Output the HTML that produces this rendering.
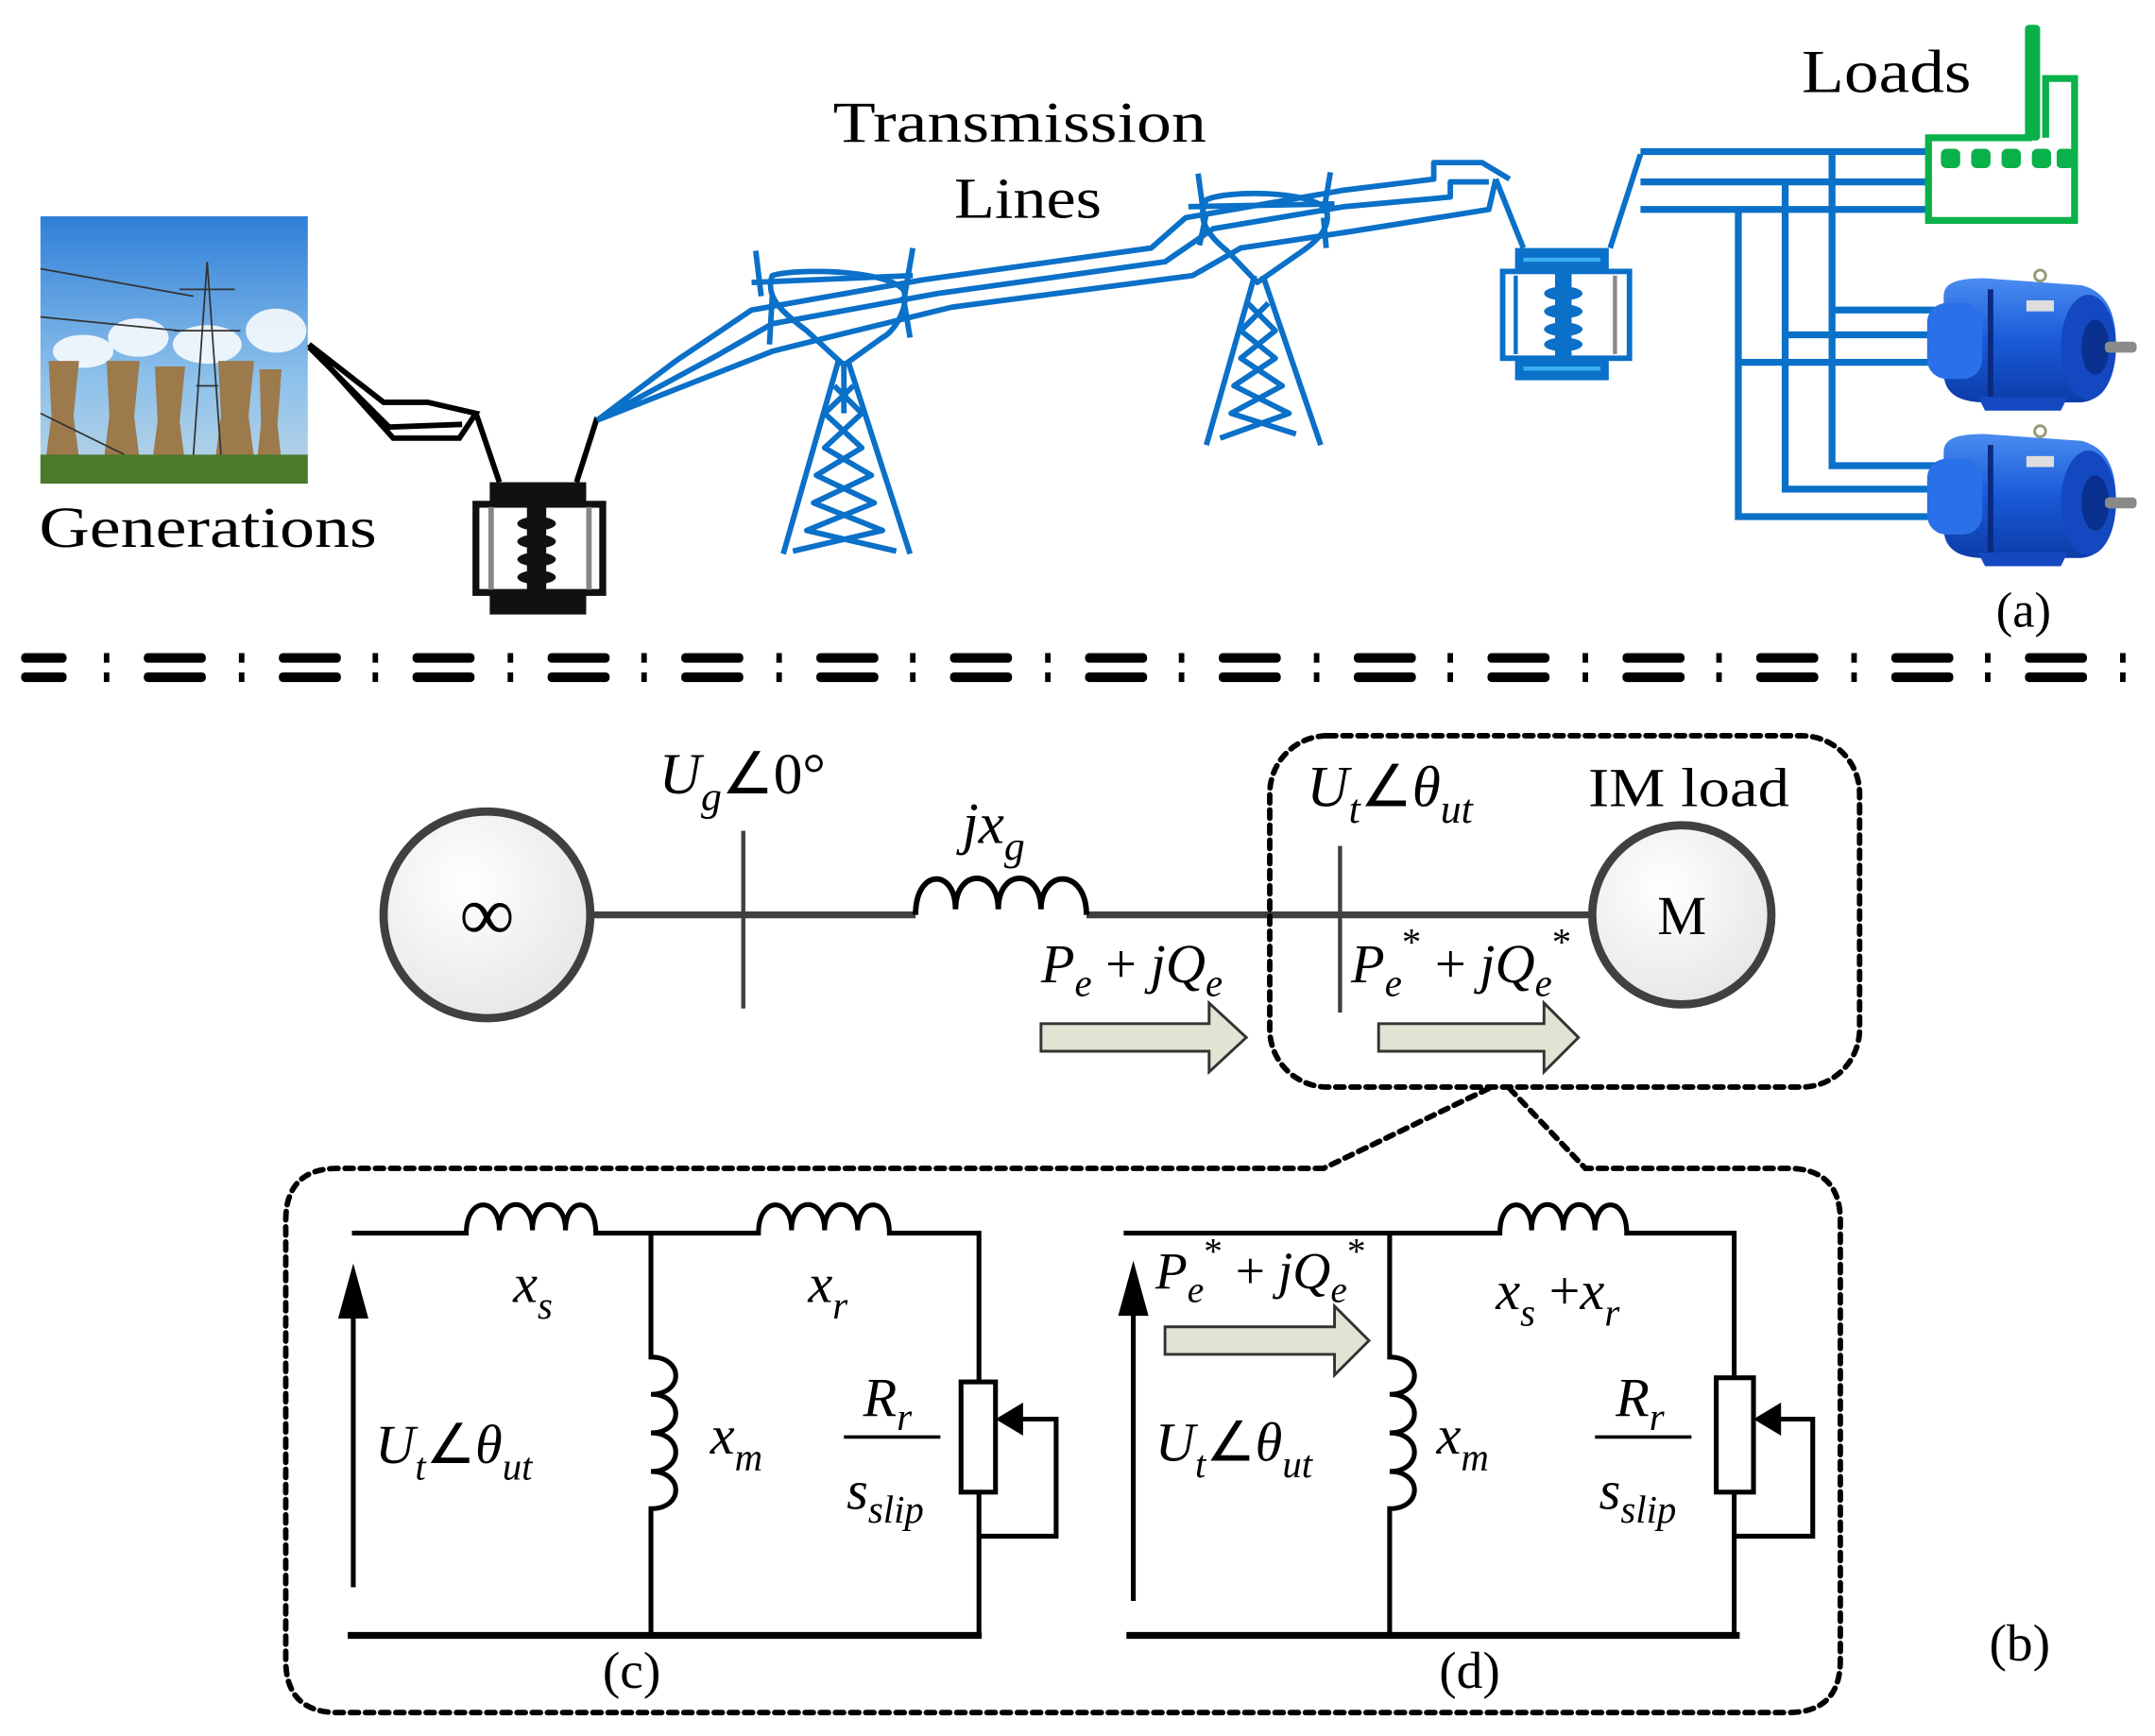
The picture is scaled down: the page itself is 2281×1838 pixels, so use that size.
<!DOCTYPE html>
<html><head><meta charset="utf-8"><style>
html,body{margin:0;padding:0;background:#fff}
svg{display:block}
.t{font-family:"Liberation Serif",serif}
.i{font-family:"Liberation Serif",serif;font-style:italic}
</style></head><body>
<svg width="2281" height="1838" viewBox="0 0 1563 1260" xmlns="http://www.w3.org/2000/svg">
<defs>
<linearGradient id="sky" x1="0" y1="0" x2="0" y2="1"><stop offset="0" stop-color="#2f7fd8"/><stop offset="0.6" stop-color="#8cc0ea"/><stop offset="1" stop-color="#bcd6e6"/></linearGradient>
<radialGradient id="cg" cx="0.4" cy="0.35" r="0.7"><stop offset="0" stop-color="#ffffff"/><stop offset="1" stop-color="#e6e6e6"/></radialGradient>
<linearGradient id="mot" x1="0" y1="0" x2="0" y2="1"><stop offset="0" stop-color="#4a8cf0"/><stop offset="0.5" stop-color="#1a5ad8"/><stop offset="1" stop-color="#0c3ca8"/></linearGradient>
</defs>

<!-- Photo -->
<rect x="29" y="157" width="194" height="194" fill="url(#sky)"/>
<g fill="#ffffff" opacity="0.85"><ellipse cx="60" cy="255" rx="22" ry="12"/><ellipse cx="100" cy="245" rx="22" ry="14"/><ellipse cx="150" cy="250" rx="25" ry="14"/><ellipse cx="200" cy="240" rx="22" ry="16"/></g>
<g fill="#9c7a4c"><path d="M35 262h22l-4 40 4 30h-24l4-30z"/><path d="M77 262h24l-4 40 4 32h-26l4-32z"/><path d="M112 266h22l-4 40 4 30h-24l4-30z"/><path d="M158 262h26l-4 40 4 30h-28l4-30z"/><path d="M188 268h16l-3 40 3 28h-18l3-28z"/></g>
<g stroke="#333" stroke-width="1.2" fill="none"><path d="M150 190 L140 330 M150 190 L160 330 M130 210h40 M126 240h48 M142 280h16"/><path d="M29 195 L140 215 M29 230 L130 240 M29 300 L90 330"/></g>
<rect x="29" y="330" width="194" height="21" fill="#4a7a2a"/>
<text class="t" x="28" y="397" font-size="42" textLength="245" lengthAdjust="spacingAndGlyphs">Generations</text>

<!-- black lines to transformer -->
<g stroke="#000" stroke-width="4" fill="none"><path d="M224 250 L278 292 L310 292 L345 300 L333 318 L285 318 Z"/><path d="M224 252 L282 310 L335 308"/><path d="M345 300 L362 350 M433 303 L418 350"/></g>
<!-- black transformer -->
<g>
<rect x="355" y="350" width="70" height="18" fill="#111"/>
<rect x="355" y="428" width="70" height="18" fill="#111"/>
<rect x="345" y="366" width="92" height="64" fill="#fff" stroke="#111" stroke-width="5"/>
<rect x="354" y="368" width="4" height="60" fill="#888"/><rect x="425" y="368" width="4" height="60" fill="#888"/>
<g fill="#111"><rect x="382" y="368" width="14" height="62"/><ellipse cx="389" cy="380" rx="14" ry="5"/><ellipse cx="389" cy="393" rx="14" ry="5"/><ellipse cx="389" cy="406" rx="14" ry="5"/><ellipse cx="389" cy="419" rx="14" ry="5"/></g>
</g>

<!-- blue transmission lines -->
<g stroke="#0a70c8" stroke-width="4" fill="none" stroke-linejoin="round">
<path d="M433 305 L490 262 L545 225 L670 203 L835 180 L860 158 L975 138 L1040 130 L1040 118 L1075 118 L1095 130"/>
<path d="M433 305 L520 258 L560 235 L680 213 L845 190 L880 166 L975 150 L1052 143 L1052 132 L1080 132"/>
<path d="M433 305 L560 255 L600 245 L690 223 L865 200 L900 180 L980 168 L1080 152 L1085 130"/>
<path d="M1085 130 L1105 180 M1168 180 L1190 112"/>
</g>
<!-- tower 1 -->
<g stroke="#0a70c8" stroke-width="4" fill="none" stroke-linejoin="round">
<path d="M548 182 L552 215 M662 180 L656 215 M545 205 L662 200"/>
<path d="M560 200 C575 195 640 195 655 210 C660 220 650 240 640 245 L612 265 L585 240 C565 225 555 215 560 200Z"/>
<path d="M560 215 L558 250 M655 215 L660 245"/>
<path d="M608 262 L568 402 M615 262 L660 402 M612 262 L612 300"/>
<path d="M605 280 L625 300 L598 325 L632 345 L590 365 L640 385 L575 400 M619 280 L598 300 L625 325 L592 345 L634 365 L585 385 L650 400"/>
</g>
<!-- tower 2 -->
<g stroke="#0a70c8" stroke-width="4" fill="none" stroke-linejoin="round">
<path d="M869 126 L873 155 M965 125 L960 155 M862 150 L968 148"/>
<path d="M875 145 C890 138 950 138 962 152 C966 165 955 175 945 182 L912 205 L890 182 C875 170 868 158 875 145Z"/>
<path d="M875 155 L870 178 M960 158 L962 180"/>
<path d="M910 200 L875 323 M916 200 L958 323"/>
<path d="M905 220 L925 240 L900 260 L930 280 L893 300 L940 315 M920 220 L900 240 L925 260 L895 280 L935 300 L885 318"/>
</g>
<!-- blue transformer -->
<g>
<rect x="1099" y="180" width="68" height="18" fill="#0a70c8"/>
<rect x="1105" y="187" width="56" height="3" fill="#3bb0f0"/>
<rect x="1099" y="258" width="68" height="18" fill="#0a70c8"/>
<rect x="1105" y="266" width="56" height="3" fill="#3bb0f0"/>
<rect x="1090" y="197" width="92" height="63" fill="#fff" stroke="#0a70c8" stroke-width="4"/>
<rect x="1098" y="200" width="3" height="57" fill="#0a70c8"/><rect x="1170" y="200" width="3" height="57" fill="#888"/>
<g fill="#0a70c8"><rect x="1128" y="198" width="12" height="62"/><ellipse cx="1134" cy="213" rx="14" ry="5"/><ellipse cx="1134" cy="226" rx="14" ry="5"/><ellipse cx="1134" cy="239" rx="14" ry="5"/><ellipse cx="1134" cy="250" rx="14" ry="5"/></g>
</g>
<text class="t" x="604" y="103" font-size="42" textLength="271" lengthAdjust="spacingAndGlyphs">Transmission</text>
<text class="t" x="692" y="158" font-size="42" textLength="107" lengthAdjust="spacingAndGlyphs">Lines</text>

<!-- bus lines -->
<g stroke="#0a70c8" stroke-width="5" fill="none">
<path d="M1190 110 H1400 M1190 132 H1400 M1190 152 H1400"/>
<path d="M1329 110 V338 H1410 M1295 132 V355 H1410 M1261 152 V375 H1410"/>
<path d="M1329 225 H1410 M1295 243 H1410 M1261 263 H1410"/>
</g>
<!-- factory -->
<g fill="none" stroke="#0ab04a" stroke-width="5">
<path d="M1474 100 H1399 V160 H1505 V57 H1484 V100"/>
</g>
<rect x="1469" y="18" width="11" height="84" rx="3" fill="#0ab04a"/>
<g fill="#0ab04a"><rect x="1408" y="108" width="14" height="14" rx="4"/><rect x="1430" y="108" width="14" height="14" rx="4"/><rect x="1452" y="108" width="14" height="14" rx="4"/><rect x="1474" y="108" width="14" height="14" rx="4"/><rect x="1492" y="108" width="12" height="14" rx="3"/></g>
<text class="t" x="1307" y="67" font-size="44" textLength="123" lengthAdjust="spacingAndGlyphs">Loads</text>
<!-- motors -->
<g id="m1">
<path d="M1410 215 C1410 205 1420 202 1440 202 L1510 207 C1530 212 1535 230 1535 250 C1535 272 1528 290 1510 292 L1440 292 C1420 292 1410 285 1410 270 Z" fill="url(#mot)"/>
<rect x="1398" y="220" width="40" height="55" rx="14" fill="#2a70e8"/>
<rect x="1442" y="210" width="4" height="78" fill="#0a2a80"/>
<ellipse cx="1515" cy="252" rx="20" ry="38" fill="#1448c0"/>
<ellipse cx="1520" cy="252" rx="10" ry="20" fill="#0a3090"/>
<rect x="1527" y="248" width="23" height="8" rx="3" fill="#8a8a8a"/>
<rect x="1470" y="218" width="20" height="8" fill="#ddd"/>
<path d="M1435 288 H1500 L1495 298 H1440 Z" fill="#1448c0"/>
<circle cx="1480" cy="200" r="4" fill="none" stroke="#997" stroke-width="2"/>
</g>
<use href="#m1" transform="translate(0,113)"/>
<text class="t" x="1448" y="455" font-size="36">(a)</text>

<!-- separator -->
<g fill="#000">
<rect x="15" y="474" width="33" height="7" rx="3"/><rect x="15" y="488" width="33" height="7" rx="3"/>
<rect x="104" y="474" width="45" height="7" rx="3"/><rect x="104" y="488" width="45" height="7" rx="3"/>
<rect x="202" y="474" width="45" height="7" rx="3"/><rect x="202" y="488" width="45" height="7" rx="3"/>
<rect x="299" y="474" width="45" height="7" rx="3"/><rect x="299" y="488" width="45" height="7" rx="3"/>
<rect x="397" y="474" width="45" height="7" rx="3"/><rect x="397" y="488" width="45" height="7" rx="3"/>
<rect x="494" y="474" width="45" height="7" rx="3"/><rect x="494" y="488" width="45" height="7" rx="3"/>
<rect x="592" y="474" width="45" height="7" rx="3"/><rect x="592" y="488" width="45" height="7" rx="3"/>
<rect x="689" y="474" width="45" height="7" rx="3"/><rect x="689" y="488" width="45" height="7" rx="3"/>
<rect x="787" y="474" width="45" height="7" rx="3"/><rect x="787" y="488" width="45" height="7" rx="3"/>
<rect x="884" y="474" width="45" height="7" rx="3"/><rect x="884" y="488" width="45" height="7" rx="3"/>
<rect x="982" y="474" width="45" height="7" rx="3"/><rect x="982" y="488" width="45" height="7" rx="3"/>
<rect x="1079" y="474" width="45" height="7" rx="3"/><rect x="1079" y="488" width="45" height="7" rx="3"/>
<rect x="1177" y="474" width="45" height="7" rx="3"/><rect x="1177" y="488" width="45" height="7" rx="3"/>
<rect x="1274" y="474" width="45" height="7" rx="3"/><rect x="1274" y="488" width="45" height="7" rx="3"/>
<rect x="1372" y="474" width="45" height="7" rx="3"/><rect x="1372" y="488" width="45" height="7" rx="3"/>
<rect x="1469" y="474" width="45" height="7" rx="3"/><rect x="1469" y="488" width="45" height="7" rx="3"/>
<rect x="75" y="474" width="4" height="7"/><rect x="75" y="488" width="4" height="7"/>
<rect x="173" y="474" width="4" height="7"/><rect x="173" y="488" width="4" height="7"/>
<rect x="270" y="474" width="4" height="7"/><rect x="270" y="488" width="4" height="7"/>
<rect x="368" y="474" width="4" height="7"/><rect x="368" y="488" width="4" height="7"/>
<rect x="465" y="474" width="4" height="7"/><rect x="465" y="488" width="4" height="7"/>
<rect x="563" y="474" width="4" height="7"/><rect x="563" y="488" width="4" height="7"/>
<rect x="660" y="474" width="4" height="7"/><rect x="660" y="488" width="4" height="7"/>
<rect x="758" y="474" width="4" height="7"/><rect x="758" y="488" width="4" height="7"/>
<rect x="855" y="474" width="4" height="7"/><rect x="855" y="488" width="4" height="7"/>
<rect x="953" y="474" width="4" height="7"/><rect x="953" y="488" width="4" height="7"/>
<rect x="1050" y="474" width="4" height="7"/><rect x="1050" y="488" width="4" height="7"/>
<rect x="1148" y="474" width="4" height="7"/><rect x="1148" y="488" width="4" height="7"/>
<rect x="1245" y="474" width="4" height="7"/><rect x="1245" y="488" width="4" height="7"/>
<rect x="1343" y="474" width="4" height="7"/><rect x="1343" y="488" width="4" height="7"/>
<rect x="1440" y="474" width="4" height="7"/><rect x="1440" y="488" width="4" height="7"/>
<rect x="1538" y="474" width="4" height="7"/><rect x="1538" y="488" width="4" height="7"/>
</g>

<!-- Part b -->
<g stroke="#404040" fill="none">
<line x1="430" y1="664" x2="664" y2="664" stroke-width="5"/>
<line x1="788" y1="664" x2="1155" y2="664" stroke-width="5"/>
<line x1="539" y1="603" x2="539" y2="732" stroke-width="3"/>
<line x1="972" y1="614" x2="972" y2="735" stroke-width="3"/>
</g>
<path d="M664 664 C664 630 693 630 693 660 C693 630 724 630 724 660 C724 630 755 630 755 660 C755 630 788 630 788 664" fill="none" stroke="#000" stroke-width="4"/>
<circle cx="353" cy="664" r="75" fill="url(#cg)" stroke="#404040" stroke-width="6"/>
<text class="t" x="353" y="682" font-size="56" text-anchor="middle">∞</text>
<circle cx="1220" cy="664" r="65" fill="url(#cg)" stroke="#404040" stroke-width="6"/>
<text class="t" x="1220" y="678" font-size="40" text-anchor="middle">M</text>
<text class="i" x="478" y="576" font-size="42">U<tspan font-size="30" dy="12">g</tspan><tspan font-style="normal" dy="-12">∠0°</tspan></text>
<text class="i" x="698" y="612" font-size="42">jx<tspan font-size="30" dy="12">g</tspan></text>
<text class="i" x="948" y="585" font-size="42">U<tspan font-size="30" dy="12">t</tspan><tspan font-style="normal" dy="-12">∠</tspan>θ<tspan font-size="30" dy="12">ut</tspan></text>
<text class="t" x="1152" y="585" font-size="40" textLength="146" lengthAdjust="spacingAndGlyphs">IM load</text>
<text class="i" x="755" y="713" font-size="40">P<tspan font-size="28" dy="10">e</tspan><tspan font-style="normal" dy="-10"> + </tspan>jQ<tspan font-size="28" dy="10">e</tspan></text>
<text class="i" x="980" y="713" font-size="40">P<tspan font-size="28" dy="10">e</tspan><tspan font-style="normal" font-size="28" dy="-30">*</tspan><tspan font-style="normal" dy="20"> + </tspan>jQ<tspan font-size="28" dy="10">e</tspan><tspan font-style="normal" font-size="28" dy="-30">*</tspan></text>
<g fill="#dfe5d2" stroke="#333" stroke-width="2">
<path d="M755 743 H877 V728 L904 753 L877 778 V763 H755 Z"/>
<path d="M1000 743 H1120 V728 L1145 753 L1120 778 V763 H1000 Z"/>
<path d="M845 963 H968 V948 L993 973 L968 998 V983 H845 Z"/>
</g>
<g fill="none" stroke="#000" stroke-width="4" stroke-dasharray="6 5" stroke-linecap="round">
<rect x="921" y="534" width="428" height="255" rx="42"/>
<path d="M1080 790 L960 848"/><path d="M1095 790 L1150 848"/>
<path d="M960 848 H245 Q207 848 207 886 V1205 Q207 1243 245 1243 H1297 Q1335 1243 1335 1205 V886 Q1335 848 1297 848 H1150"/>
</g>

<!-- circuits -->
<g fill="none" stroke="#000" stroke-width="3.5">
<path d="M255 895 H338 C338 868 362 868 362 893 C362 868 386 868 386 893 C386 868 410 868 410 893 C410 868 432 868 432 895 H550 C550 868 574 868 574 893 C574 868 598 868 598 893 C598 868 622 868 622 893 C622 868 645 868 645 895 H710 V1003"/>
<path d="M472 895 V985 C496 985 496 1012 472 1012 C496 1012 496 1040 472 1040 C496 1040 496 1068 472 1068 C496 1068 496 1095 472 1095 V1187"/>
<rect x="697" y="1003" width="25" height="80"/>
<path d="M710 1083 V1187 M740 1030 H766 V1115 H710"/>
<path d="M256 1152 V945"/>
<line x1="612" y1="1043" x2="682" y2="1043" stroke-width="2.5"/>
<path d="M815 895 H1088 C1088 868 1111 868 1111 893 C1111 868 1134 868 1134 893 C1134 868 1157 868 1157 893 C1157 868 1180 868 1180 895 H1258 V1000"/>
<path d="M1008 895 V985 C1032 985 1032 1012 1008 1012 C1032 1012 1032 1040 1008 1040 C1032 1040 1032 1068 1008 1068 C1032 1068 1032 1095 1008 1095 V1187"/>
<rect x="1245" y="1000" width="27" height="83"/>
<path d="M1258 1083 V1187 M1290 1030 H1315 V1115 H1258"/>
<path d="M822 1162 V945"/>
<line x1="1157" y1="1043" x2="1227" y2="1043" stroke-width="2.5"/>
</g>
<g stroke="#000" stroke-width="5"><line x1="252" y1="1187" x2="712" y2="1187"/><line x1="817" y1="1187" x2="1262" y2="1187"/></g>
<g fill="#000">
<path d="M256 917 L245 957 L267 957 Z"/>
<path d="M822 915 L811 955 L833 955 Z"/>
<path d="M722 1030 L742 1018 L742 1042 Z"/>
<path d="M1272 1030 L1292 1018 L1292 1042 Z"/>
</g>
<text class="i" x="372" y="945" font-size="40">x<tspan font-size="28" dy="12">s</tspan></text>
<text class="i" x="586" y="945" font-size="40">x<tspan font-size="28" dy="12">r</tspan></text>
<text class="i" x="515" y="1055" font-size="40">x<tspan font-size="28" dy="12">m</tspan></text>
<text class="i" x="272" y="1062" font-size="40">U<tspan font-size="28" dy="12">t</tspan><tspan font-style="normal" dy="-12">∠</tspan>θ<tspan font-size="28" dy="12">ut</tspan></text>
<text class="i" x="626" y="1028" font-size="40">R<tspan font-size="28" dy="10">r</tspan></text>
<text class="i" x="614" y="1095" font-size="40">s<tspan font-size="28" dy="10">slip</tspan></text>
<text class="t" x="458" y="1225" font-size="38" text-anchor="middle">(c)</text>
<text class="i" x="838" y="935" font-size="38">P<tspan font-size="27" dy="10">e</tspan><tspan font-style="normal" font-size="27" dy="-28">*</tspan><tspan font-style="normal" dy="18"> + </tspan>jQ<tspan font-size="27" dy="10">e</tspan><tspan font-style="normal" font-size="27" dy="-28">*</tspan></text>
<text class="i" x="1085" y="950" font-size="40">x<tspan font-size="28" dy="12">s</tspan><tspan font-style="normal" dy="-12"> +</tspan>x<tspan font-size="28" dy="12">r</tspan></text>
<text class="i" x="1042" y="1055" font-size="40">x<tspan font-size="28" dy="12">m</tspan></text>
<text class="i" x="838" y="1060" font-size="40">U<tspan font-size="28" dy="12">t</tspan><tspan font-style="normal" dy="-12">∠</tspan>θ<tspan font-size="28" dy="12">ut</tspan></text>
<text class="i" x="1172" y="1028" font-size="40">R<tspan font-size="28" dy="10">r</tspan></text>
<text class="i" x="1160" y="1095" font-size="40">s<tspan font-size="28" dy="10">slip</tspan></text>
<text class="t" x="1066" y="1225" font-size="38" text-anchor="middle">(d)</text>
<text class="t" x="1443" y="1205" font-size="38">(b)</text>
</svg>
</body></html>
